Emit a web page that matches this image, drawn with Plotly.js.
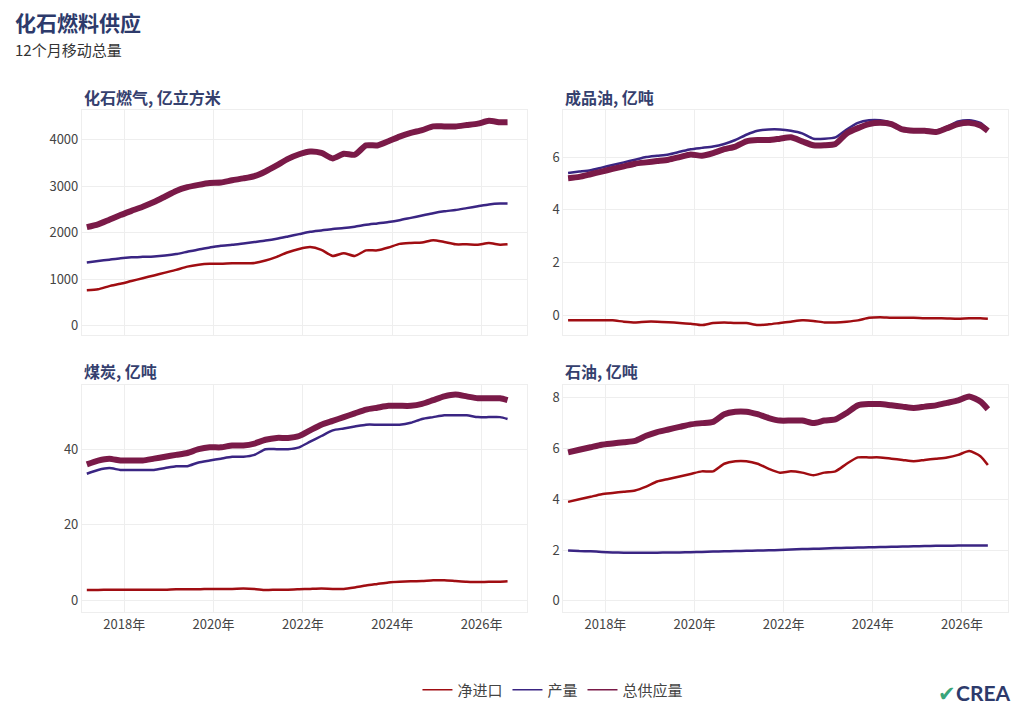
<!DOCTYPE html>
<html>
<head>
<meta charset="utf-8">
<script src="https://cdn.plot.ly/plotly-3.0.1.min.js"></script>
<style>body{margin:0;background:#fff}#chart{width:1024px;height:717px}</style>
</head>
<body>
<div id="chart"></div>
<script>
// quarterly readings, 12-month rolling totals
var dates = ['2017-03-01','2017-06-01','2017-09-01','2017-12-01','2018-03-01','2018-06-01','2018-09-01','2018-12-01',
  '2019-03-01','2019-06-01','2019-09-01','2019-12-01','2020-03-01','2020-06-01','2020-09-01','2020-12-01',
  '2021-03-01','2021-06-01','2021-09-01','2021-12-01','2022-03-01','2022-06-01','2022-09-01','2022-12-01',
  '2023-03-01','2023-06-01','2023-09-01','2023-12-01','2024-03-01','2024-06-01','2024-09-01','2024-12-01',
  '2025-03-01','2025-06-01','2025-09-01','2025-12-01','2026-03-01','2026-06-01','2026-08-01']

var gas_imports = [760,780,850,900,960,1020,1080,1140,1200,1270,1310,1330,1330,1340,1340,1350,1400,1480,1580,1650,1690,1630,1500,1560,1500,1620,1620,1680,1760,1780,1790,1840,1800,1750,1750,1740,1780,1740,1750]
var gas_prod = [1360,1390,1420,1450,1470,1480,1490,1510,1540,1590,1640,1680,1720,1740,1770,1800,1830,1870,1920,1970,2020,2050,2080,2100,2130,2170,2200,2230,2270,2320,2370,2420,2460,2490,2530,2570,2610,2630,2630]
var gas_total = [2120,2180,2280,2380,2470,2560,2660,2780,2900,2980,3030,3070,3080,3130,3170,3220,3320,3450,3590,3690,3750,3720,3600,3700,3680,3880,3880,3970,4070,4150,4210,4290,4290,4290,4320,4350,4410,4380,4380]

var prod_imports = [-0.2,-0.2,-0.2,-0.2,-0.2,-0.25,-0.28,-0.25,-0.25,-0.27,-0.3,-0.33,-0.38,-0.3,-0.28,-0.3,-0.3,-0.38,-0.35,-0.3,-0.25,-0.2,-0.22,-0.28,-0.28,-0.25,-0.2,-0.1,-0.08,-0.1,-0.1,-0.1,-0.12,-0.12,-0.13,-0.14,-0.12,-0.12,-0.14]
var prod_prod = [5.4,5.45,5.5,5.6,5.7,5.8,5.9,6.0,6.05,6.1,6.2,6.3,6.35,6.4,6.5,6.65,6.85,7.0,7.05,7.05,7.0,6.9,6.7,6.7,6.75,7.05,7.3,7.4,7.4,7.3,7.1,7.05,7.05,7.0,7.15,7.35,7.4,7.3,7.05]
var prod_total = [5.2,5.25,5.35,5.45,5.55,5.65,5.75,5.8,5.85,5.9,6.0,6.1,6.05,6.15,6.3,6.4,6.6,6.65,6.65,6.7,6.75,6.6,6.45,6.45,6.5,6.9,7.1,7.25,7.3,7.25,7.05,7.0,7.0,6.95,7.1,7.25,7.3,7.2,7.0]

var coal_imports = [2.7,2.7,2.8,2.8,2.8,2.8,2.8,2.8,2.9,2.9,2.9,3.0,3.0,3.0,3.1,3.0,2.7,2.8,2.8,2.9,3.0,3.1,3.0,3.0,3.4,3.9,4.3,4.7,4.9,5.0,5.1,5.3,5.3,5.1,4.9,4.8,4.9,4.9,5.0]
var coal_prod = [33.5,34.5,35,34.5,34.5,34.5,34.5,35,35.5,35.5,36.5,37,37.5,38,38,38.5,40,40,40,40.5,42,43.5,45,45.5,46,46.5,46.5,46.5,46.5,47,48,48.5,49,49,49,48.5,48.5,48.5,48]
var coal_total = [36,37,37.5,37,37,37,37.5,38,38.5,39,40,40.5,40.5,41,41,41.5,42.5,43,43,43.5,45,46.5,47.5,48.5,49.5,50.5,51,51.5,51.5,51.5,52,53,54,54.5,54,53.5,53.5,53.5,53]

var crude_imports = [3.9,4.0,4.1,4.2,4.25,4.3,4.35,4.5,4.7,4.8,4.9,5.0,5.1,5.1,5.4,5.5,5.5,5.4,5.2,5.05,5.1,5.05,4.95,5.05,5.1,5.4,5.65,5.65,5.65,5.6,5.55,5.5,5.55,5.6,5.65,5.75,5.9,5.7,5.35]
var crude_prod = [1.98,1.96,1.95,1.93,1.91,1.9,1.9,1.9,1.9,1.91,1.91,1.92,1.93,1.94,1.95,1.96,1.97,1.98,1.99,2.0,2.02,2.04,2.05,2.06,2.08,2.09,2.1,2.11,2.12,2.13,2.14,2.15,2.16,2.17,2.17,2.18,2.18,2.18,2.18]
var crude_total = [5.85,5.95,6.05,6.15,6.2,6.25,6.3,6.5,6.65,6.75,6.85,6.95,7.0,7.05,7.35,7.45,7.45,7.35,7.2,7.1,7.1,7.1,7.0,7.1,7.15,7.4,7.7,7.75,7.75,7.7,7.65,7.6,7.65,7.7,7.8,7.9,8.05,7.85,7.55]

var names = ['净进口', '产量', '总供应量']
var colors = ['#a00d12', '#3a2583', '#7a1a48']
var widths = [2.5, 2.5, 6]
var panels = [
  {x: 'x', y: 'y', s: [gas_imports, gas_prod, gas_total]},
  {x: 'x2', y: 'y2', s: [prod_imports, prod_prod, prod_total]},
  {x: 'x3', y: 'y3', s: [coal_imports, coal_prod, coal_total]},
  {x: 'x4', y: 'y4', s: [crude_imports, crude_prod, crude_total]}
]

var data = []
panels.forEach(function (p) {
  p.s.forEach(function (vals, i) {
    data.push({
      x: dates, y: vals, xaxis: p.x, yaxis: p.y, type: 'scatter', mode: 'lines',
      name: names[i], showlegend: false,
      line: {color: colors[i], width: widths[i], shape: 'spline', smoothing: 0.6}
    })
  })
})
// legend keys, all drawn thin like the reference
names.forEach(function (n, i) {
  data.push({x: [null], y: [null], type: 'scatter', mode: 'lines', name: n,
    line: {color: colors[i], width: 1.6}, showlegend: true})
})

var font = {family: 'Noto Sans CJK SC, sans-serif', color: '#444', size: 13}
function xa(domain, anchor, labels) {
  return {domain: domain, anchor: anchor, type: 'date', range: ['2017-01-20', '2027-01-10'],
    tick0: '2018-01-01', dtick: 'M24', tickformat: '%Y年', showticklabels: labels,
    showgrid: true, gridcolor: '#eeeeee', zeroline: false, showline: true, mirror: true,
    linecolor: '#eeeeee', ticks: '', tickfont: {size: 13, color: '#444'}}
}
function ya(domain, anchor, range, dtick) {
  return {domain: domain, anchor: anchor, range: range, dtick: dtick, showgrid: true, gridcolor: '#eeeeee',
    zeroline: false, showline: true, mirror: true, linecolor: '#eeeeee', ticks: '',
    tickfont: {size: 13, color: '#444'}}
}
var rowTop = [0.533, 0.847], rowBot = [0.146, 0.463]
var colLeft = [0.080, 0.515], colRight = [0.550, 0.984]
var titleFont = {family: font.family, size: 16, color: '#35406e'}

var layout = {
  width: 1024, height: 717, margin: {l: 0, r: 0, t: 0, b: 0},
  paper_bgcolor: '#fff', plot_bgcolor: '#fff', font: font,
  xaxis: xa(colLeft, 'y', false), yaxis: ya(rowTop, 'x', [-200, 4650], 1000),
  xaxis2: xa(colRight, 'y2', false), yaxis2: ya(rowTop, 'x2', [-0.75, 7.8], 2),
  xaxis3: xa(colLeft, 'y3', true), yaxis3: ya(rowBot, 'x3', [-3.2, 57], 20),
  xaxis4: xa(colRight, 'y4', true), yaxis4: ya(rowBot, 'x4', [-0.45, 8.5], 2),
  showlegend: true,
  legend: {orientation: 'h', x: 0.54, xanchor: 'center', y: 1 - 690 / 717, yanchor: 'middle',
    font: {size: 15, color: '#444'}, itemwidth: 30},
  annotations: [
    {text: '<b>化石燃料供应</b>', xref: 'paper', yref: 'paper', x: 0.013, y: 1 - 22 / 717, xanchor: 'left', yanchor: 'middle',
      showarrow: false, font: {family: font.family, size: 21, color: '#2d3a6b'}},
    {text: '12个月移动总量', xref: 'paper', yref: 'paper', x: 0.013, y: 1 - 50 / 717, xanchor: 'left', yanchor: 'middle',
      showarrow: false, font: {size: 15, color: '#333'}},
    {text: '<b>化石燃气, 亿立方米</b>', xref: 'paper', yref: 'paper', x: 0.080, y: 1 - 97 / 717, xanchor: 'left', yanchor: 'middle', showarrow: false, font: titleFont},
    {text: '<b>成品油, 亿吨</b>', xref: 'paper', yref: 'paper', x: 0.550, y: 1 - 97 / 717, xanchor: 'left', yanchor: 'middle', showarrow: false, font: titleFont},
    {text: '<b>煤炭, 亿吨</b>', xref: 'paper', yref: 'paper', x: 0.080, y: 1 - 371 / 717, xanchor: 'left', yanchor: 'middle', showarrow: false, font: titleFont},
    {text: '<b>石油, 亿吨</b>', xref: 'paper', yref: 'paper', x: 0.550, y: 1 - 371 / 717, xanchor: 'left', yanchor: 'middle', showarrow: false, font: titleFont},
    {text: '<span style="color:#3aa57a">✔</span><b>CREA</b>', xref: 'paper', yref: 'paper', x: 0.988, y: 1 - 692 / 717, xanchor: 'right', yanchor: 'middle',
      showarrow: false, font: {family: 'Lato, sans-serif', size: 21, color: '#2d3a6b'}}
  ]
}

Plotly.newPlot('chart', data, layout, {displayModeBar: false, staticPlot: true})
</script>
</body>
</html>
